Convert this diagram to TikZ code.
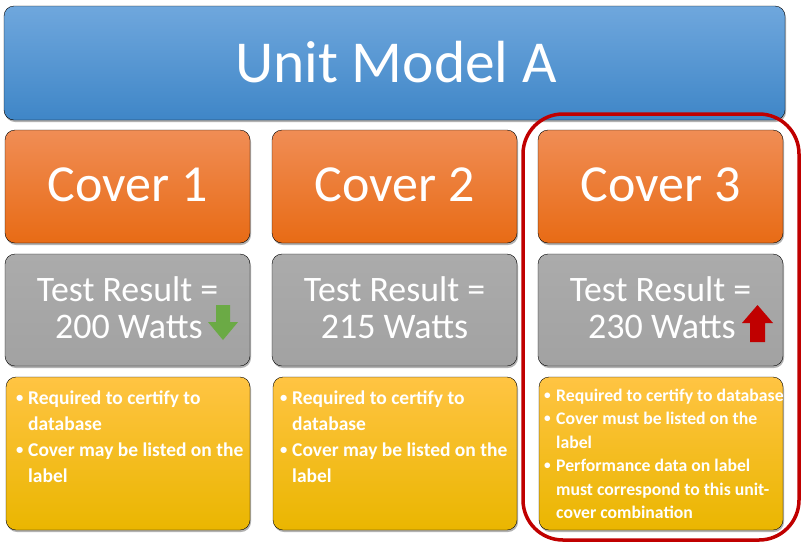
\documentclass[tikz,border=0pt]{standalone}
\usepackage{fontspec}
\setmainfont{Carlito}
\usetikzlibrary{shadows}
\definecolor{bluetop}{HTML}{6FA7DD}
\definecolor{bluebot}{HTML}{3F86C7}
\definecolor{ortop}{HTML}{F08D55}
\definecolor{orbot}{HTML}{E86B15}
\definecolor{graytop}{HTML}{ABABAB}
\definecolor{graybot}{HTML}{A2A2A2}
\definecolor{yeltop}{HTML}{FFC443}
\definecolor{yelbot}{HTML}{EAB600}
\definecolor{darkred}{HTML}{C00000}
\definecolor{arrgreen}{HTML}{6BAA45}
\tikzset{
  boxbase/.style={rounded corners=10pt, drop shadow={shadow xshift=1pt, shadow yshift=-2pt, opacity=0.3, fill=black}},
  bluebox/.style={boxbase, top color=bluetop, bottom color=bluebot},
  orbox/.style={boxbase, top color=ortop, bottom color=orbot},
  graybox/.style={boxbase, top color=graytop, bottom color=graybot},
  yelbox/.style={boxbase, top color=yeltop, bottom color=yelbot},
  wtext/.style={text=white, inner sep=0pt},
  bullets/.style={text=white, inner sep=0pt, anchor=north west, font=\bfseries},
}
\newcommand{\bl}{\makebox[12pt][l]{\raisebox{0.12em}{\scalebox{0.75}{\textbullet}}}}
\begin{document}
\begin{tikzpicture}[x=1pt,y=-1pt]
\useasboundingbox[fill=white] (0,0) rectangle (810,555);
% title
\draw[bluebox] (4,6) rectangle (785,120);
\node[wtext, font=\fontsize{59.5}{60}\selectfont] (title) at (396,62) {Unit Model A};
% highlight
\draw[darkred, line width=3.5pt, rounded corners=40pt] (523,114) rectangle (799,540);
% columns
\foreach \i/\x in {1/5,2/272,3/538}{
  \draw[orbox] (\x,130) rectangle (\x+245,243);
  \node[wtext, font=\fontsize{52}{52}\selectfont] (cover\i) at (\x+122.5,185) {Cover \i};
  \draw[graybox] (\x,254) rectangle (\x+245,366);
  \node[wtext, font=\fontsize{35.8}{36}\selectfont] (tr\i) at (\x+122.5,289) {Test Result =};
  \draw[yelbox] (\x+1,377) rectangle (\x+245,530);
}
\node[wtext, font=\fontsize{36}{36}\selectfont, anchor=west] (w1) at (55,327) {200 Watts};
\node[wtext, font=\fontsize{36}{36}\selectfont] (w2) at (394.5,327) {215 Watts};
\node[wtext, font=\fontsize{36}{36}\selectfont, anchor=west] (w3) at (588,327) {230 Watts};
% arrows
\fill[arrgreen] (216,305) -- (230,305) -- (230,322) -- (238,322) -- (223,340) -- (208,322) -- (216,322) -- cycle;
\fill[darkred] (750,342) -- (765,342) -- (765,323) -- (773,323) -- (757.5,305) -- (742,323) -- (750,323) -- cycle;
% bullet text
\node[bullets] (b1) at (16,386) {\fontsize{19.5}{26}\selectfont
  \begin{tabular}{@{}l@{}l@{}}
  \bl & Required to certify to\\
      & database\\
  \bl & Cover may be listed on the\\
      & label
  \end{tabular}};
\node[bullets] (b2) at (280,386) {\fontsize{19.5}{26}\selectfont
  \begin{tabular}{@{}l@{}l@{}}
  \bl & Required to certify to\\
      & database\\
  \bl & Cover may be listed on the\\
      & label
  \end{tabular}};
\node[bullets] (b3) at (544,385) {\fontsize{17.7}{23.4}\selectfont
  \begin{tabular}{@{}l@{}l@{}}
  \bl & Required to certify to database\\
  \bl & Cover must be listed on the\\
      & label\\
  \bl & Performance data on label\\
      & must correspond to this unit-\\
      & cover combination
  \end{tabular}};
\end{tikzpicture}
\end{document}
